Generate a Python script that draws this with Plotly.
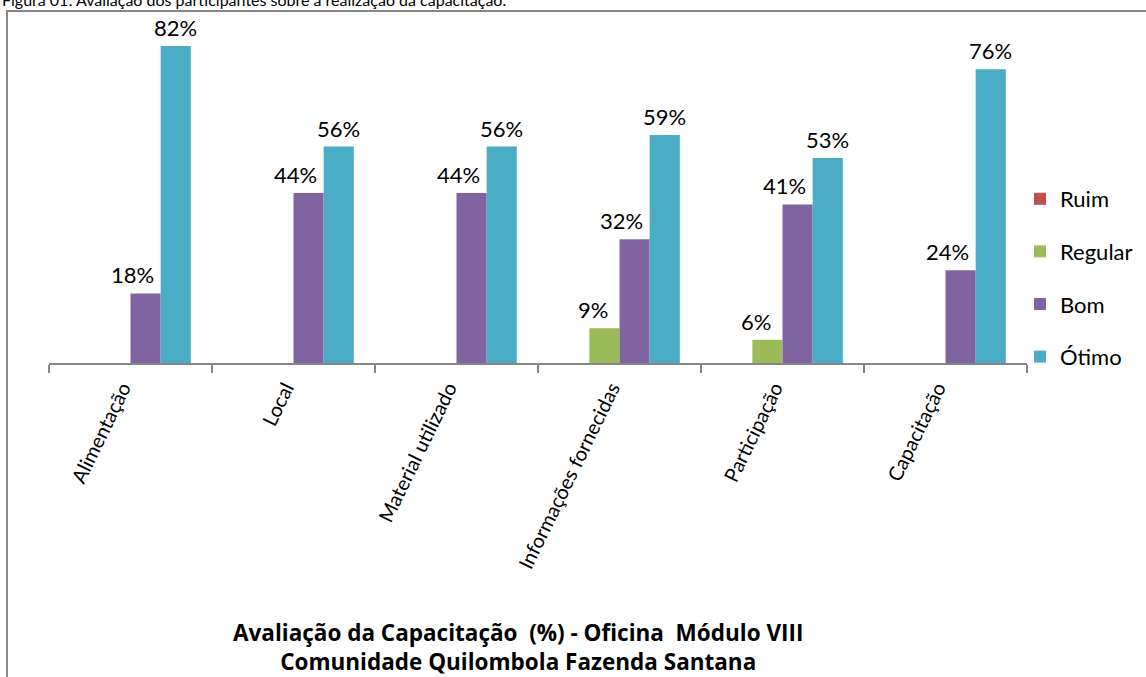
import plotly.graph_objects as go

categories = ["Alimentação", "Local", "Material utilizado", "Informações fornecidas", "Participação", "Capacitação"]
series_names = ["Ruim", "Regular", "Bom", "Ótimo"]
ruim = [0, 0, 0, 0, 0, 0]
regular = [0, 0, 0, 9, 6, 0]
bom = [18, 44, 44, 32, 41, 24]
otimo = [82, 56, 56, 59, 53, 76]
series_values = [ruim, regular, bom, otimo]
colors = ["#C0504D", "#9BBB59", "#8064A2", "#4BACC6"]

FONT = "Lato, 'Open Sans', sans-serif"
TITLE_FONT = "'Open Sans', Lato, sans-serif"

fig = go.Figure()
for i, (name, vals) in enumerate(zip(series_names, series_values)):
    fig.add_trace(go.Bar(
        x=categories, y=vals, name=name, marker_color=colors[i],
        marker_line_width=0, legendgroup=name,
    ))

# data labels (Excel-style positions, pixel shift from category centre)
label_xshift = [-58, -27, 2, 45]
for i, vals in enumerate(series_values):
    for c, v in zip(categories, vals):
        if v > 0:
            fig.add_annotation(
                x=c, y=v, text=f"{v}%", showarrow=False,
                xref="x", yref="y", yanchor="bottom",
                xshift=label_xshift[i], yshift=3,
                font=dict(size=22, color="#000000", family=FONT),
            )

L, R, T, B = 49, 1027, 15, 363
W, H = 1146, 677
def px(x):
    return (x - L) / (R - L)
def py(y):
    return (B - y) / (B - T)

fig.add_shape(type="rect", xref="paper", yref="paper",
              x0=px(7), x1=px(1160), y0=py(700), y1=py(11),
              line=dict(color="#868686", width=2), fillcolor="rgba(0,0,0,0)")

fig.add_annotation(xref="paper", yref="paper", x=px(518), y=py(647),
                   text="<b>Avaliação da Capacitação  (%) - Oficina  Módulo VIII</b><br>"
                        "<b>Comunidade Quilombola Fazenda Santana</b>",
                   showarrow=False, font=dict(size=22.5, color="#000000", family=TITLE_FONT),
                   xanchor="center", yanchor="middle", align="center")

fig.add_annotation(xref="paper", yref="paper", x=px(0), y=py(0),
                   text="Figura 01: Avaliação dos participantes sobre a realização da capacitação.",
                   showarrow=False, font=dict(size=16, color="#000000", family=FONT),
                   xanchor="left", yanchor="middle")

fig.update_layout(
    width=W, height=H,
    margin=dict(l=L, r=W - R, t=T, b=H - B, autoexpand=False),
    paper_bgcolor="white", plot_bgcolor="white",
    barmode="group", bargap=0.26, bargroupgap=0,
    font=dict(family=FONT, color="#000000"),
    showlegend=True,
    legend=dict(x=px(1020), y=py(178), xanchor="left", yanchor="top",
                font=dict(size=22, family=FONT), tracegroupgap=21,
                bgcolor="rgba(0,0,0,0)"),
    xaxis=dict(showline=True, linecolor="#868686", linewidth=1.5,
               ticks="outside", ticklen=8, tickcolor="#868686", tickwidth=1.5,
               tickson="boundaries", tickangle=-64,
               ticklabelshift=-8, ticklabelstandoff=4,
               tickfont=dict(size=20, family=FONT, color="#000000"),
               showgrid=False, fixedrange=True, automargin=False),
    yaxis=dict(range=[0, (B - T) / 3.866], visible=False, showgrid=False,
               zeroline=False, fixedrange=True),
)

fig.write_html("out.html", config={"displayModeBar": False},
               post_script="document.body.style.margin='0';")
